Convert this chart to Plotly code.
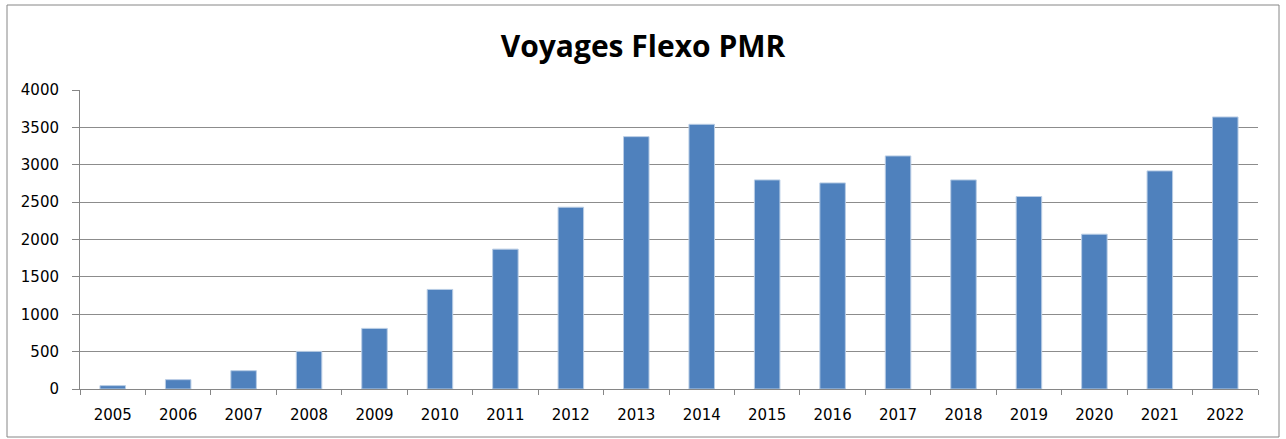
import plotly.graph_objects as go

years = [str(y) for y in range(2005, 2023)]
voyages = [45, 125, 245, 503, 811, 1332, 1871, 2432, 3376, 3541, 2797, 2757,
           3118, 2797, 2575, 2071, 2918, 3639]
y_ticks = [0, 500, 1000, 1500, 2000, 2500, 3000, 3500, 4000]

W, H = 1286, 439
ML, MR, MT, MB = 80, 28, 90, 50
pw = W - ML - MR
ph = H - MT - MB

def px_x(p):
    return (p - ML) / pw

def px_y(p):
    return (H - MB - p) / ph

fig = go.Figure(go.Bar(
    x=years, y=voyages,
    marker=dict(color="#4F81BD", line=dict(color="#B9CDE5", width=1)),
    hoverinfo="skip",
))

fig.update_layout(
    width=W, height=H,
    margin=dict(l=ML, r=MR, t=MT, b=MB),
    paper_bgcolor="white", plot_bgcolor="white",
    bargap=0.61,
    showlegend=False,
    title=dict(text="<b>Voyages Flexo PMR</b>", x=0.5, xanchor="center",
               y=1 - 46 / H, yanchor="middle",
               font=dict(family="Open Sans", size=30, color="black")),
    font=dict(family="DejaVu Sans", size=15, color="black"),
    shapes=[dict(type="rect", xref="paper", yref="paper",
                 x0=px_x(7), x1=px_x(1279), y0=px_y(437), y1=px_y(5),
                 line=dict(color="#868686", width=1), layer="below")],
)

fig.update_xaxes(
    type="category", showgrid=False, showline=True, linecolor="#868686", linewidth=1,
    ticks="outside", tickson="boundaries", ticklen=5, tickcolor="#868686",
    tickfont=dict(size=15), ticklabelstandoff=12,
)
fig.update_yaxes(
    range=[0, 4000], tickvals=y_ticks, showgrid=True, gridcolor="#8C8C8C", gridwidth=1,
    showline=True, linecolor="#868686", linewidth=1, ticks="outside", ticklen=7,
    tickcolor="#868686", zeroline=False, tickfont=dict(size=15), ticklabelstandoff=10,
)

fig.write_html("out.html", config={"displayModeBar": False},
               post_script="document.body.style.margin='0';")
